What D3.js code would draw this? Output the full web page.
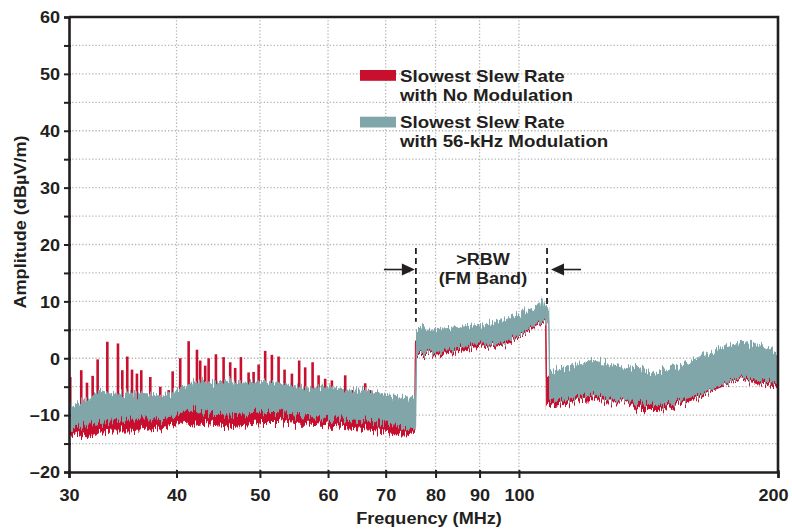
<!DOCTYPE html>
<html>
<head>
<meta charset="utf-8">
<script src="https://cdn.jsdelivr.net/npm/d3@7"></script>
<style>
  html, body { margin: 0; padding: 0; background: #fff; }
  svg { display: block; }
  text { font-family: "Liberation Sans", Arial, Helvetica, sans-serif; font-weight: bold; fill: #231f20; }
</style>
</head>
<body>
<svg id="chart" width="792" height="529"></svg>
<script>
// Frequency axis ticks (MHz) and amplitude axis ticks (dBµV/m)
const freqTicks = [30, 40, 50, 60, 70, 80, 90, 100, 200];
const freqGrid = [40, 50, 60, 70, 80, 90, 100];
const ampTicks = [-20, -10, 0, 10, 20, 30, 40, 50, 60];
const ampMinor = [-15, -5, 5, 15, 25, 35, 45, 55];

const seriesLabels = [
  ["Slowest Slew Rate", "with No Modulation"],
  ["Slowest Slew Rate", "with 56-kHz Modulation"]
];
const seriesColors = ["#c8102e", "#80a6aa"];

// 56-kHz modulation: envelope of the measured spectrum (upper / lower)
const modFreq = [30.0, 30.5, 31.6, 32.6, 33.65, 35.2, 36.8, 38.5, 39.9, 40.77, 41.13, 42.05, 42.62, 43.98,
  45.98, 48.07, 50.27, 52.56, 54.95, 57.46, 60.08, 62.82, 65.68, 68.69, 71.8, 74.42, 75.85,
  76.05, 76.97, 78.37, 81.2, 84.91, 88.79, 92.82, 97.06, 100.57, 103.3, 105.65, 106.39, 106.8, 108.3,
  108.55, 110.95, 116.02, 121.29, 126.83, 132.62, 138.64, 144.98, 151.6, 158.48, 165.72, 173.29,
  181.16, 189.43, 198.08, 200];
const modHigh = [-8.0, -8.4, -7.3, -5.6, -6.4, -6.1, -6.4, -6.7, -5.9, -5.0, -4.8, -4.1, -4.2, -4.4,
  -4.1, -4.4, -4.1, -4.4, -5.0, -5.3, -5.0, -5.6, -5.6, -6.1, -6.7, -7.0, -6.5,
  4.9, 5.7, 4.9, 5.1, 5.4, 5.7, 6.0, 6.9, 7.8, 8.7, 9.5, 11.0, 9.4, 9.2,
  -2.2, -1.9, -1.3, -0.4, -1.0, -1.6, -1.9, -2.7, -1.6, -0.7, 0.8, 1.9,
  2.8, 2.5, 1.3, 0.8];
const modLow = [-13.3, -12.2, -11.6, -11.3, -11.0, -10.7, -10.7, -10.6, -10.2, -9.3, -8.7, -8.7, -9.3, -9.9,
  -9.8, -9.6, -9.4, -9.6, -10.0, -10.3, -10.6, -10.7, -11.0, -11.2, -11.6, -12.2, -12.5,
  1.0, 1.0, 1.0, 1.35, 1.9, 2.5, 2.5, 3.1, 4.3, 5.4, 6.3, 6.4, 6.5, 6.6,
  -7.4, -7.4, -6.8, -6.3, -7.1, -7.4, -8.0, -8.3, -7.7, -6.8, -5.7, -4.5,
  -3.3, -3.9, -4.2, -4.0];

// No modulation: noise-floor envelope (upper edge lies under the modulated trace)
const noModFreq = [30.0, 30.5, 31.6, 32.6, 33.65, 35.2, 36.8, 38.5, 39.9, 40.77, 41.13, 42.05, 42.62, 43.98,
  45.98, 48.07, 50.27, 52.56, 54.95, 57.46, 60.08, 62.82, 65.68, 68.69, 71.8, 74.42, 75.7,
  75.8, 81.2, 88.79, 97.06, 105.65, 107.45,
  107.6, 110.95, 116.02, 121.29, 126.83, 132.62, 138.64, 144.98, 151.6, 158.48, 165.72, 173.29,
  181.16, 189.43, 198.08, 200];
const noModHigh = [-10.5, -10.0, -9.0, -8.5, -8.5, -8.0, -8.0, -8.0, -7.5, -7.0, -6.8, -6.5, -7.0, -7.0,
  -7.0, -7.0, -7.0, -7.0, -7.5, -7.5, -7.5, -8.0, -8.0, -8.5, -9.0, -9.5, -9.5,
  3.4, 4.0, 4.5, 5.5, 8.5, 7.0,
  -3.0, -3.0, -2.5, -2.0, -2.5, -3.0, -3.5, -4.0, -3.5, -2.5, -1.5, -0.5,
  0.5, 0.0, -1.0, -1.0];
const noModLow = [-13.9, -13.3, -13.9, -13.0, -12.8, -12.8, -12.5, -12.2, -11.6, -11.0, -11.4, -11.6, -11.4, -11.6,
  -11.9, -11.6, -11.3, -11.3, -11.6, -11.6, -11.9, -12.2, -12.5, -12.8, -13.3, -13.3, -13.0,
  0.6, 0.8, 1.8, 2.6, 6.0, 6.3,
  -8.6, -8.2, -7.4, -7.1, -7.7, -7.7, -9.2, -9.2, -8.3, -7.4, -6.0, -4.8,
  -3.6, -4.5, -4.8, -4.8];

// No modulation: narrow-band harmonic peaks below the FM band
const spikeFreq = [30.1, 31.0, 31.48, 31.96, 32.39, 33.24, 34.2, 34.6, 35.06, 35.51, 35.98, 36.4, 37.29,
  38.3, 39.17, 39.59, 40.4, 41.32, 42.25, 42.62, 43.19, 43.59, 44.45, 45.37, 46.18, 46.8, 47.52,
  48.51, 49.16, 49.83, 50.71, 51.63, 52.56, 53.41, 54.47, 55.54, 56.44, 57.57, 58.5, 59.54, 60.62,
  62.82, 63.95, 66.27, 67.16, 68.07, 71.8];
const spikePeak = [-3.3, -2.1, -4.3, -3.1, -0.2, 2.9, 2.6, -2.1, 0.3, -2.0, -2.7, -2.1, -3.3,
  -5.0, -5.6, -2.3, 0.0, 3.0, 1.5, -0.4, -1.3, 0.0, 0.7, 0.2, -0.7, -1.7, 0.2,
  -2.5, -2.4, -1.1, 1.3, 0.6, 0.3, -2.0, -2.7, -0.4, -1.6, -0.7, -3.0, -3.6, -3.9,
  -3.0, -5.6, -4.4, -5.6, -6.2, -6.7];

// FM band annotation edges (MHz)
const fmBand = [75.9, 107.8];
const fmLabel = [">RBW", "(FM Band)"];

const ink = "#231f20";
const stretch = 1.13;
const margin = { left: 69, right: 778, top: 17, bottom: 472 };

const svg = d3.select("#chart");
const x = d3.scaleLog().domain([30, 200]).range([margin.left, margin.right]);
const y = d3.scaleLinear().domain([-20, 60]).range([margin.bottom, margin.top]);

const defs = svg.append("defs");
defs.append("clipPath").attr("id", "plot")
  .append("rect").attr("x", margin.left).attr("y", margin.top)
  .attr("width", margin.right - margin.left + 2).attr("height", margin.bottom - margin.top);

// Analyzer-trace grain: ragged vertical jitter along the band edges
const grain = defs.append("filter").attr("id", "grain")
  .attr("filterUnits", "userSpaceOnUse")
  .attr("x", 0).attr("y", 0).attr("width", 792).attr("height", 529);
grain.append("feTurbulence").attr("type", "fractalNoise")
  .attr("baseFrequency", "0.75 0.018").attr("numOctaves", 2).attr("seed", 3).attr("result", "noise");
grain.append("feColorMatrix").attr("in", "noise").attr("type", "matrix")
  .attr("values", "0 0 0 0 0.5  0 1 0 0 0  0 0 1 0 0  0 0 0 0 1").attr("result", "shift");
grain.append("feDisplacementMap").attr("in", "SourceGraphic").attr("in2", "shift")
  .attr("scale", 18).attr("xChannelSelector", "R").attr("yChannelSelector", "G");

// Widen glyphs horizontally around each text anchor
function widen(sel, k, dx = () => 0) {
  sel.each(function (d) {
    const t = d3.select(this);
    const tx = (+t.attr("x") || 0) + dx(d);
    const ty = +t.attr("y") || 0;
    t.attr("x", 0).attr("y", 0).attr("transform", `translate(${tx},${ty}) scale(${k},1)`);
  });
}

// Dotted grid
const grid = svg.append("g").attr("stroke", "#b5b5b5").attr("stroke-width", 1.3)
  .attr("stroke-dasharray", "1.3,2");
grid.selectAll(".hg").data(d3.range(-15, 60, 5)).join("line")
  .attr("x1", margin.left).attr("x2", margin.right)
  .attr("y1", d => y(d)).attr("y2", d => y(d));
grid.selectAll(".vg").data(freqGrid).join("line")
  .attr("y1", margin.top).attr("y2", margin.bottom)
  .attr("x1", d => x(d)).attr("x2", d => x(d));

const plot = svg.append("g").attr("clip-path", "url(#plot)");

const noMod = noModFreq.map((f, i) => ({ f, lo: noModLow[i], hi: noModHigh[i] }));
const mod = modFreq.map((f, i) => ({ f, lo: modLow[i], hi: modHigh[i] }));
const band = d3.area().x(d => x(d.f)).y0(d => y(d.lo)).y1(d => y(d.hi));

// No-modulation trace: floor band plus harmonic peaks
plot.append("path").datum(noMod).attr("d", band)
  .attr("fill", seriesColors[0]).attr("stroke", seriesColors[0]).attr("stroke-width", 1)
  .attr("filter", "url(#grain)");
plot.append("g").selectAll("line").data(spikeFreq.map((f, i) => ({ f, p: spikePeak[i] })))
  .join("line")
  .attr("x1", d => x(d.f)).attr("x2", d => x(d.f))
  .attr("y1", y(-10)).attr("y2", d => y(d.p))
  .attr("stroke", seriesColors[0]).attr("stroke-width", 2.6);

// 56-kHz modulation trace on top
plot.append("path").datum(mod).attr("d", band)
  .attr("fill", seriesColors[1]).attr("stroke", seriesColors[1]).attr("stroke-width", 1)
  .attr("filter", "url(#grain)");

// Frame: top and right borders
svg.append("path")
  .attr("d", `M${margin.left},${margin.top}H${margin.right}V${margin.bottom}`)
  .attr("fill", "none").attr("stroke", ink).attr("stroke-width", 2.6);

// Left axis
const yAxis = svg.append("g").attr("transform", `translate(${margin.left},0)`)
  .call(d3.axisLeft(y).tickValues(d3.range(-20, 61, 5))
    .tickSize(5).tickPadding(4)
    .tickFormat(d => d % 10 === 0 ? (d < 0 ? "\u2013" + Math.abs(d) : String(d)) : ""));
yAxis.select(".domain").attr("stroke", ink).attr("stroke-width", 2.6);
yAxis.selectAll(".tick line").attr("stroke", ink).attr("stroke-width", 2).attr("x2", -5).attr("x1", 2);
yAxis.selectAll("text").attr("font-size", 16).attr("fill", ink).attr("dy", "0.36em");
widen(yAxis.selectAll("text"), stretch);

// Bottom axis
const xAxis = svg.append("g").attr("transform", `translate(0,${margin.bottom})`)
  .call(d3.axisBottom(x).tickValues(freqTicks).tickFormat(d3.format("d"))
    .tickSize(6).tickPadding(12));
xAxis.select(".domain").attr("stroke", ink).attr("stroke-width", 2.6);
xAxis.selectAll(".tick line").attr("stroke", ink).attr("stroke-width", 2).attr("y1", -2);
xAxis.selectAll("text").attr("font-size", 16).attr("fill", ink);
widen(xAxis.selectAll("text"), stretch, d => (d === 200 ? -5 : 0));

// Axis titles
svg.append("text").attr("transform", `translate(429,524) scale(${stretch},1)`)
  .attr("text-anchor", "middle").attr("font-size", 16).text("Frequency (MHz)");
svg.append("text").attr("transform", `translate(26,222) rotate(-90) scale(${stretch},1)`)
  .attr("text-anchor", "middle").attr("font-size", 16).text("Amplitude (dB\u00b5V/m)");

// Legend
const legend = svg.append("g");
seriesLabels.forEach((lines, i) => {
  const top = 70 + i * 46.7;
  legend.append("rect").attr("x", 360).attr("y", top).attr("width", 36).attr("height", 10.8)
    .attr("fill", seriesColors[i]);
  lines.forEach((s, j) => {
    legend.append("text").attr("transform", `translate(400,${top + 11.6 + j * 19}) scale(${stretch},1)`)
      .attr("font-size", 16.6).text(s);
  });
});

// FM band annotation
const ann = svg.append("g");
const dashTop = y(19.4);
[[fmBand[0], 6.4], [fmBand[1], 9.1]].forEach(([f, v]) => {
  ann.append("line").attr("x1", x(f)).attr("x2", x(f)).attr("y1", dashTop).attr("y2", y(v))
    .attr("stroke", ink).attr("stroke-width", 1.8).attr("stroke-dasharray", "6,4");
});
const arrowY = y(15.6);
const xl = x(fmBand[0]) - 1, xr = x(fmBand[1]) + 4;
ann.append("line").attr("x1", xl - 31).attr("x2", xl - 10).attr("y1", arrowY).attr("y2", arrowY)
  .attr("stroke", ink).attr("stroke-width", 1.6);
ann.append("path").attr("d", `M${xl},${arrowY}L${xl - 13},${arrowY - 6}L${xl - 13},${arrowY + 6}Z`).attr("fill", ink);
ann.append("line").attr("x1", xr + 10).attr("x2", xr + 30).attr("y1", arrowY).attr("y2", arrowY)
  .attr("stroke", ink).attr("stroke-width", 1.6);
ann.append("path").attr("d", `M${xr},${arrowY}L${xr + 13},${arrowY - 6}L${xr + 13},${arrowY + 6}Z`).attr("fill", ink);
fmLabel.forEach((s, j) => {
  ann.append("text").attr("transform", `translate(483,${265 + j * 18.5}) scale(${stretch},1)`)
    .attr("text-anchor", "middle").attr("font-size", 16).text(s);
});
</script>
</body>
</html>
